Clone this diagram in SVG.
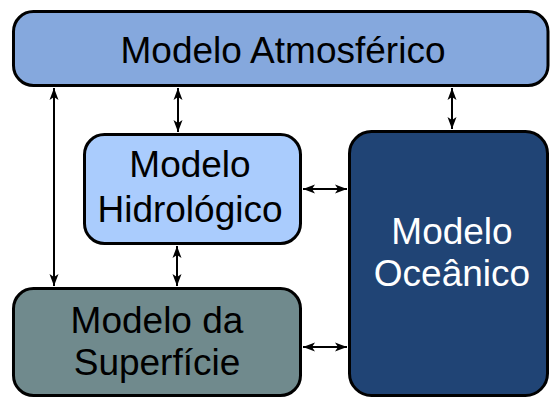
<svg xmlns="http://www.w3.org/2000/svg" width="550" height="398" viewBox="0 0 550 398">
<defs>
<style>
.box{stroke:#000;stroke-width:3}
.lbl{font-family:"Liberation Sans",Arial,sans-serif;font-size:37px;text-anchor:middle;fill:#000}
.w{fill:#fff}
.con{stroke:#000;stroke-width:2;fill:none;marker-start:url(#ah);marker-end:url(#ah)}
</style>
<marker id="ah" markerUnits="userSpaceOnUse" markerWidth="12" markerHeight="10" refX="12" refY="4.5" orient="auto-start-reverse" viewBox="0 0 12 9">
<path d="M0,0 L12,4.5 L0,9 L3,4.5 z" fill="#000"/>
</marker>
</defs>
<rect width="550" height="398" fill="#fff"/>
<g id="connectors">
<line class="con" x1="54" y1="88" x2="54" y2="286"/>
<line class="con" x1="178" y1="88" x2="178" y2="132"/>
<line class="con" x1="177" y1="246" x2="177" y2="286"/>
<line class="con" x1="452" y1="88" x2="452" y2="129"/>
<line class="con" x1="303" y1="189" x2="347" y2="189"/>
<line class="con" x1="303" y1="347" x2="347" y2="347"/>
</g>
<g id="atmosferico">
<rect class="box" x="13.5" y="11.5" width="534.5" height="74" rx="20" fill="#85A8DD"/>
<text class="lbl" x="283" y="63">Modelo Atmosférico</text>
</g>
<g id="hidrologico">
<rect class="box" x="84.5" y="134.5" width="216" height="109" rx="20" fill="#AACCFD"/>
<text class="lbl" x="190" y="177">Modelo</text>
<text class="lbl" x="190" y="222">Hidrológico</text>
</g>
<g id="superficie">
<rect class="box" x="13.5" y="288.5" width="287" height="107" rx="20" fill="#708A8D"/>
<text class="lbl" x="157" y="333">Modelo da</text>
<text class="lbl" x="157" y="375">Superfície</text>
</g>
<g id="oceanico">
<rect class="box" x="349.5" y="131.5" width="198" height="264" rx="22" fill="#204475"/>
<text class="lbl w" x="452" y="244">Modelo</text>
<text class="lbl w" x="452" y="286">Oceânico</text>
</g>
</svg>
